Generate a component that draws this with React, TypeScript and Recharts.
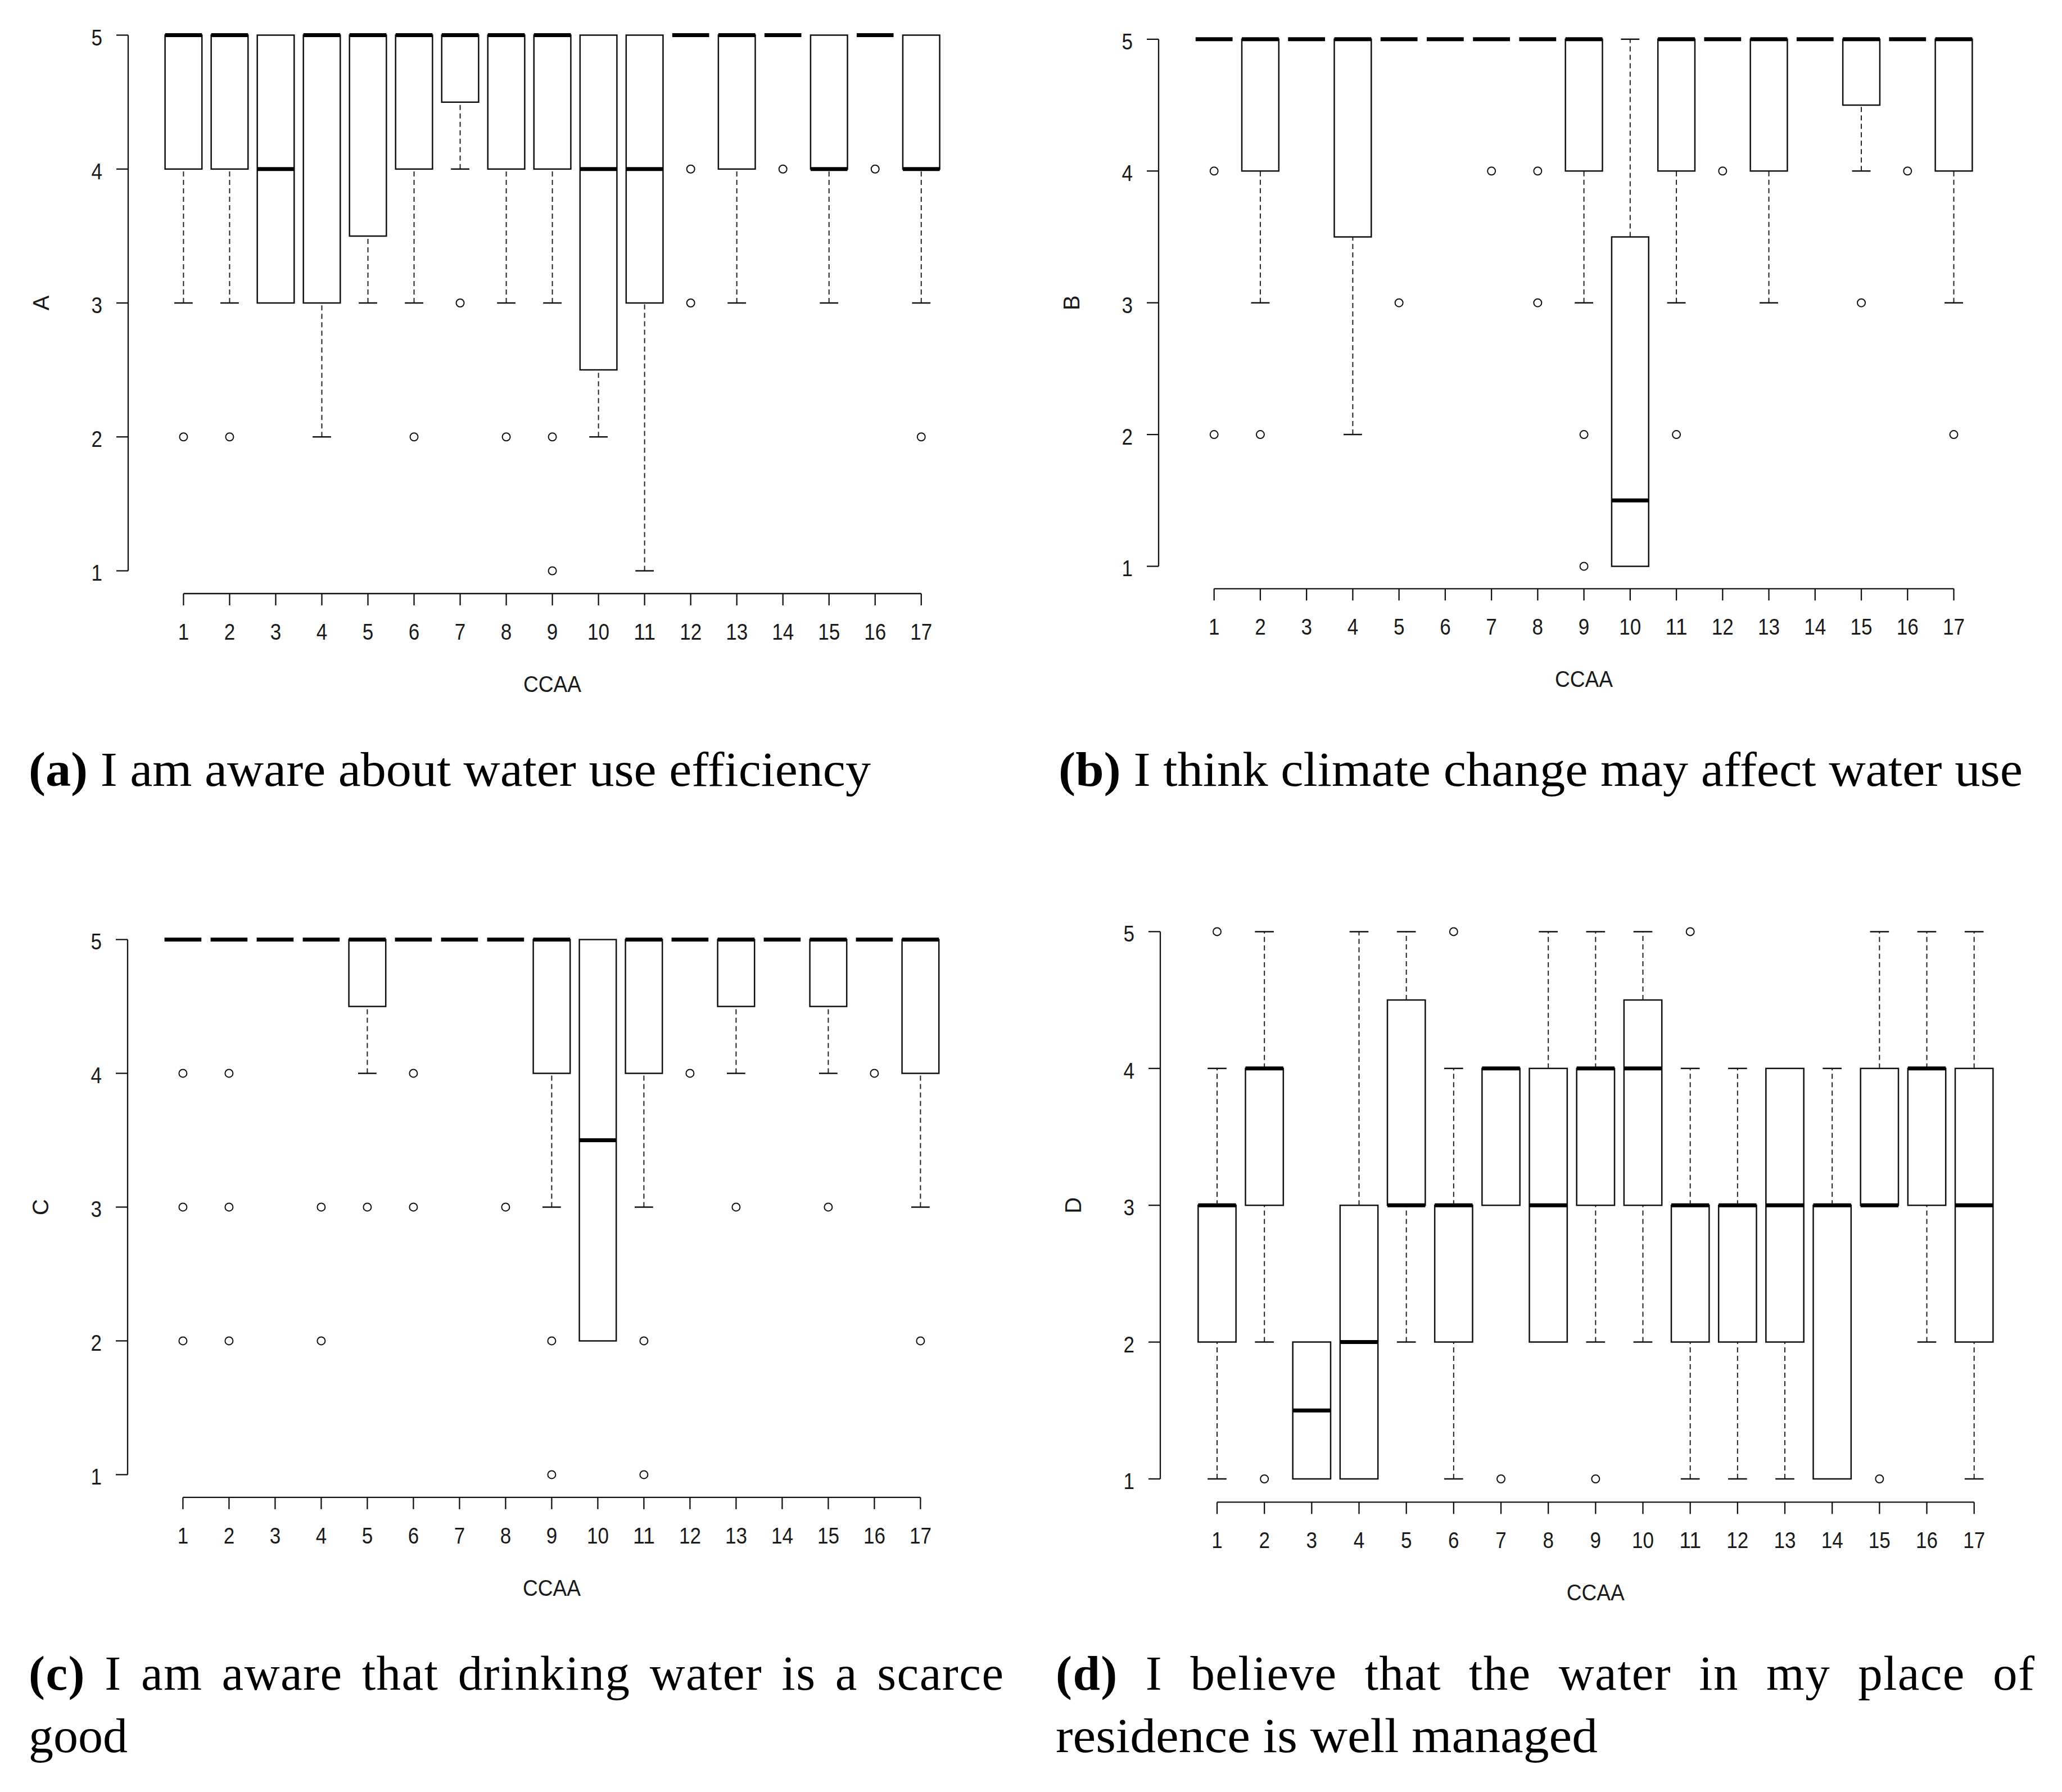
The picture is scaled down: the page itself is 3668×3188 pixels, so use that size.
import React from 'react';
import { ComposedChart, XAxis, YAxis, Scatter, ReferenceArea, ReferenceLine } from 'recharts';

// ---------- data ----------
const CCAA = [1, 2, 3, 4, 5, 6, 7, 8, 9, 10, 11, 12, 13, 14, 15, 16, 17];
const SCALE_TICKS = [1, 2, 3, 4, 5];

// (a) I am aware about water use efficiency
const A_Q1 = [4, 4, 3, 3, 3.5, 4, 4.5, 4, 4, 2.5, 3, 5, 4, 5, 4, 5, 4];
const A_MED = [5, 5, 4, 5, 5, 5, 5, 5, 5, 4, 4, 5, 5, 5, 4, 5, 4];
const A_Q3 = [5, 5, 5, 5, 5, 5, 5, 5, 5, 5, 5, 5, 5, 5, 5, 5, 5];
const A_LO = [3, 3, 3, 2, 3, 3, 4, 3, 3, 2, 1, 5, 3, 5, 3, 5, 3];
const A_HI = [5, 5, 5, 5, 5, 5, 5, 5, 5, 5, 5, 5, 5, 5, 5, 5, 5];
const A_OUT = [[2], [2], [], [], [], [2], [3], [2], [2, 1], [], [], [4, 3], [], [4], [], [4], [2]];

// (b) I think climate change may affect water use
const B_Q1 = [5, 4, 5, 3.5, 5, 5, 5, 5, 4, 1, 4, 5, 4, 5, 4.5, 5, 4];
const B_MED = [5, 5, 5, 5, 5, 5, 5, 5, 5, 1.5, 5, 5, 5, 5, 5, 5, 5];
const B_Q3 = [5, 5, 5, 5, 5, 5, 5, 5, 5, 3.5, 5, 5, 5, 5, 5, 5, 5];
const B_LO = [5, 3, 5, 2, 5, 5, 5, 5, 3, 1, 3, 5, 3, 5, 4, 5, 3];
const B_HI = [5, 5, 5, 5, 5, 5, 5, 5, 5, 5, 5, 5, 5, 5, 5, 5, 5];
const B_OUT = [[4, 2], [2], [], [], [3], [], [4], [4, 3], [2, 1], [], [2], [4], [], [], [3], [4], [2]];

// (c) I am aware that drinking water is a scarce good
const C_Q1 = [5, 5, 5, 5, 4.5, 5, 5, 5, 4, 2, 4, 5, 4.5, 5, 4.5, 5, 4];
const C_MED = [5, 5, 5, 5, 5, 5, 5, 5, 5, 3.5, 5, 5, 5, 5, 5, 5, 5];
const C_Q3 = [5, 5, 5, 5, 5, 5, 5, 5, 5, 5, 5, 5, 5, 5, 5, 5, 5];
const C_LO = [5, 5, 5, 5, 4, 5, 5, 5, 3, 2, 3, 5, 4, 5, 4, 5, 3];
const C_HI = [5, 5, 5, 5, 5, 5, 5, 5, 5, 5, 5, 5, 5, 5, 5, 5, 5];
const C_OUT = [[4, 3, 2], [4, 3, 2], [], [3, 2], [3], [4, 3], [], [3], [2, 1], [], [2, 1], [4], [3], [], [3], [4], [2]];

// (d) I believe that the water in my place of residence is well managed
const D_Q1 = [2, 3, 1, 1, 3, 2, 3, 2, 3, 3, 2, 2, 2, 1, 3, 3, 2];
const D_MED = [3, 4, 1.5, 2, 3, 3, 4, 3, 4, 4, 3, 3, 3, 3, 3, 4, 3];
const D_Q3 = [3, 4, 2, 3, 4.5, 3, 4, 4, 4, 4.5, 3, 3, 4, 3, 4, 4, 4];
const D_LO = [1, 2, 1, 1, 2, 1, 3, 2, 2, 2, 1, 1, 1, 1, 3, 2, 1];
const D_HI = [4, 5, 2, 5, 5, 4, 4, 5, 5, 5, 4, 4, 4, 4, 5, 5, 5];
const D_OUT = [[5], [1], [], [], [], [5], [1], [], [1], [], [5], [], [], [], [1], [], []];

// ---------- layout ----------
const X_DOMAIN: [number, number] = [-0.2, 18.2];
const Y_DOMAIN: [number, number] = [0.83, 5.17];
const AX_W = 200;
const AX_H = 230;
const M_TOP = 10;
const M_RIGHT = 30;
const LINE = '#111';
const TEXT = '#1a1a1a';
const SANS = "'Liberation Sans', Arial, sans-serif";
const SERIF = "'Liberation Serif', 'DejaVu Serif', serif";

type Stats = { q1: number[]; med: number[]; q3: number[]; lo: number[]; hi: number[]; out: number[][] };
type Plot = { left: number; top: number; width: number; height: number };

const PANELS: { id: string; yLabel: string; stats: Stats; plot: Plot }[] = [
  { id: 'a', yLabel: 'A', stats: { q1: A_Q1, med: A_MED, q3: A_Q3, lo: A_LO, hi: A_HI, out: A_OUT }, plot: { left: 227.6, top: 22.2, width: 1509.2, height: 1034.0 } },
  { id: 'b', yLabel: 'B', stats: { q1: B_Q1, med: B_MED, q3: B_Q3, lo: B_LO, hi: B_HI, out: B_OUT }, plot: { left: 2060.5, top: 29.8, width: 1513.2, height: 1017.3 } },
  { id: 'c', yLabel: 'C', stats: { q1: C_Q1, med: C_MED, q3: C_Q3, lo: C_LO, hi: C_HI, out: C_OUT }, plot: { left: 226.8, top: 1630.7, width: 1508.8, height: 1032.9 } },
  { id: 'd', yLabel: 'D', stats: { q1: D_Q1, med: D_MED, q3: D_Q3, lo: D_LO, hi: D_HI, out: D_OUT }, plot: { left: 2064.0, top: 1615.9, width: 1548.7, height: 1056.4 } },
];

const charW = 19.5;

const XTick = (props: any) => {
  const s = String(props.payload.value);
  return (
    <text x={props.x} y={props.y + 61} textAnchor="middle" fontFamily={SANS} fontSize={40} fill={TEXT}
      textLength={charW * s.length} lengthAdjust="spacingAndGlyphs">{s}</text>
  );
};

const YTick = (props: any) => {
  const s = String(props.payload.value);
  return (
    <text x={props.x} y={props.y + 18} textAnchor="end" fontFamily={SANS} fontSize={40} fill={TEXT}
      textLength={charW * s.length} lengthAdjust="spacingAndGlyphs">{s}</text>
  );
};

const OutlierShape = (props: any) => {
  if (props.cx == null || props.cy == null) return null;
  return <circle cx={props.cx} cy={props.cy} r={7} fill="none" stroke={LINE} strokeWidth={2} />;
};

function BoxPanel({ yLabel, stats, plot }: { yLabel: string; stats: Stats; plot: Plot }) {
  const w = plot.width + AX_W + M_RIGHT;
  const h = plot.height + M_TOP + AX_H;
  const outliers: { x: number; y: number }[] = [];
  CCAA.forEach((c, i) => stats.out[i].forEach((v) => outliers.push({ x: c, y: v })));

  const elems: React.ReactElement[] = [];
  // axis lines (R style: from first to last tick)
  elems.push(<ReferenceLine key="xaxis" segment={[{ x: 1, y: Y_DOMAIN[0] }, { x: 17, y: Y_DOMAIN[0] }]} stroke={LINE} strokeWidth={2.3} ifOverflow="visible" />);
  elems.push(<ReferenceLine key="yaxis" segment={[{ x: X_DOMAIN[0], y: 1 }, { x: X_DOMAIN[0], y: 5 }]} stroke={LINE} strokeWidth={2.3} ifOverflow="visible" />);

  CCAA.forEach((c, i) => {
    const q1 = stats.q1[i], q3 = stats.q3[i], med = stats.med[i], lo = stats.lo[i], hi = stats.hi[i];
    if (lo < q1) {
      elems.push(<ReferenceLine key={`wl${c}`} segment={[{ x: c, y: lo }, { x: c, y: q1 }]} stroke="#222" strokeWidth={2} strokeDasharray="9 6" ifOverflow="visible" />);
      elems.push(<ReferenceLine key={`cl${c}`} segment={[{ x: c - 0.2, y: lo }, { x: c + 0.2, y: lo }]} stroke={LINE} strokeWidth={2.5} ifOverflow="visible" />);
    }
    if (hi > q3) {
      elems.push(<ReferenceLine key={`wh${c}`} segment={[{ x: c, y: q3 }, { x: c, y: hi }]} stroke="#222" strokeWidth={2} strokeDasharray="9 6" ifOverflow="visible" />);
      elems.push(<ReferenceLine key={`ch${c}`} segment={[{ x: c - 0.2, y: hi }, { x: c + 0.2, y: hi }]} stroke={LINE} strokeWidth={2.5} ifOverflow="visible" />);
    }
    if (q3 > q1) {
      elems.push(<ReferenceArea key={`b${c}`} x1={c - 0.4} x2={c + 0.4} y1={q1} y2={q3} fill="none" fillOpacity={0} stroke={LINE} strokeWidth={2.5} ifOverflow="visible" />);
    }
    elems.push(<ReferenceLine key={`m${c}`} segment={[{ x: c - 0.4, y: med }, { x: c + 0.4, y: med }]} stroke="#000" strokeWidth={7} ifOverflow="visible" />);
  });

  const xLabel = (p: any) => {
    const vb = p.viewBox || {};
    return (
      <text x={vb.x + vb.width / 2} y={vb.y + 175} textAnchor="middle" fontFamily={SANS} fontSize={40} fill={TEXT}
        textLength={103} lengthAdjust="spacingAndGlyphs">CCAA</text>
    );
  };
  const yLab = (p: any) => {
    const vb = p.viewBox || {};
    const cx = vb.x + vb.width - 155 + 14;
    const cy = vb.y + vb.height / 2;
    return (
      <text x={cx} y={cy} textAnchor="middle" fontFamily={SANS} fontSize={40} fill={TEXT}
        transform={`rotate(-90, ${cx}, ${cy})`}>{yLabel}</text>
    );
  };

  return (
    <div style={{ position: 'absolute', left: plot.left - AX_W, top: plot.top - M_TOP }}>
      <ComposedChart width={w} height={h} margin={{ top: M_TOP, right: M_RIGHT, bottom: 0, left: 0 }}>
        <XAxis type="number" dataKey="x" domain={X_DOMAIN} ticks={CCAA} interval={0} allowDataOverflow
          axisLine={false} tickSize={21} tickMargin={0} tickLine={{ stroke: LINE, strokeWidth: 2.3 }}
          tick={XTick} height={AX_H} label={xLabel} />
        <YAxis type="number" dataKey="y" domain={Y_DOMAIN} ticks={SCALE_TICKS} interval={0} allowDataOverflow
          axisLine={false} tickSize={21} tickMargin={25} tickLine={{ stroke: LINE, strokeWidth: 2.3 }}
          tick={YTick} width={AX_W} label={yLab} />
        {elems}
        <Scatter data={outliers} dataKey="y" isAnimationActive={false} shape={OutlierShape} />
      </ComposedChart>
    </div>
  );
}

const CAPTIONS = [
  { tag: '(a)', text: ' I am aware about water use efficiency', x: 51, y: 1398, len: 1498, mode: 'spacingAndGlyphs', ws: 0 },
  { tag: '(b)', text: ' I think climate change may affect water use', x: 1883, y: 1398, len: 1715, mode: 'spacingAndGlyphs', ws: 0 },
  { tag: '(c)', text: ' I am aware that drinking water is a scarce', x: 51, y: 3006, len: 1734, mode: 'spacing', ws: 11 },
  { tag: '', text: 'good', x: 51, y: 3117, len: 176, mode: 'spacingAndGlyphs', ws: 0 },
  { tag: '(d)', text: ' I believe that the water in my place of', x: 1878, y: 3006, len: 1741, mode: 'spacing', ws: 26 },
  { tag: '', text: 'residence is well managed', x: 1878, y: 3117, len: 964, mode: 'spacingAndGlyphs', ws: 0 },
];

export default function App() {
  return (
    <div style={{ position: 'absolute', left: 0, top: 0, width: 3668, height: 3188, background: '#fff', overflow: 'hidden' }}>
      {PANELS.map((p) => (
        <BoxPanel key={p.id} yLabel={p.yLabel} stats={p.stats} plot={p.plot} />
      ))}
      <svg width={3668} height={3188} style={{ position: 'absolute', left: 0, top: 0, pointerEvents: 'none' }}>
        {CAPTIONS.map((c, i) => (
          <text key={i} x={c.x} y={c.y} fontFamily={SERIF} fontSize={87} fill="#000"
            textLength={c.len} lengthAdjust={c.mode as any} style={{ whiteSpace: 'pre', wordSpacing: c.ws }}>
            {c.tag ? <tspan fontWeight="bold">{c.tag}</tspan> : null}
            <tspan>{c.text}</tspan>
          </text>
        ))}
      </svg>
    </div>
  );
}
